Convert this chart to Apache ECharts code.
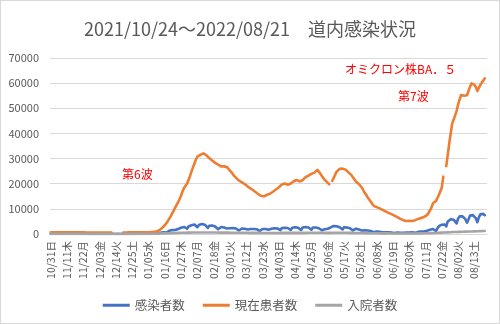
<!DOCTYPE html>
<html>
<head>
<meta charset="utf-8">
<script src="https://cdn.jsdelivr.net/npm/echarts@6/dist/echarts.min.js"></script>
<style>
html,body{margin:0;padding:0;background:#fff;}
#frame{position:absolute;left:0;top:0;width:500px;height:324px;box-sizing:border-box;border:1px solid #d9d9d9;}
#chart{position:absolute;left:0;top:0;width:500px;height:324px;}
</style>
</head>
<body>
<div id="frame"></div>
<div id="chart"></div>
<script>
// Title and legend names
const titleText = '2021/10/24～2022/08/21　道内感染状況';
const seriesNames = ['感染者数', '現在患者数', '入院者数'];
const annotationTexts = ['第6波', 'オミクロン株BA．５', '第7波'];

// Categories: daily from 2021/10/31 to 2022/08/21 (295 days)
const startDate = [2021, 10, 31];
const dayCount = 295;
const weekdayChars = ['日', '月', '火', '水', '木', '金', '土'];

// Y-axis ticks
const yTicks = [0, 10000, 20000, 30000, 40000, 50000, 60000, 70000];

// 感染者数 (daily new cases), one row per week starting Sunday
const infected = [
  20,12,25,30,28,26,24,
  20,10,22,25,24,20,18,
  16,8,18,20,19,17,15,
  14,7,15,16,15,13,12,
  11,6,12,14,13,12,11,
  10,5,11,12,11,10,9,
  9,5,10,11,12,10,9,
  10,6,12,14,13,12,11,
  12,8,14,16,20,24,22,
  25,18,35,40,60,90,120,
  150,110,240,360,480,620,700,
  760,560,1000,1250,1400,1550,1700,
  1600,1300,2000,2400,2500,2600,2800,
  2600,2100,3000,3300,3500,3600,3800,
  3400,2700,3600,3900,4000,3900,3700,
  3100,2400,3300,3500,3400,3200,3000,
  2600,1900,2600,2800,2700,2600,2500,
  2200,1600,2300,2500,2400,2300,2200,
  1900,1400,2100,2200,2200,2100,2000,
  1800,1300,2000,2100,2000,1900,1900,
  1700,1200,1900,2000,2000,2000,1900,
  1700,1300,2100,2300,2300,2200,2200,
  2000,1500,2400,2600,2500,2500,2400,
  2100,1600,2500,2700,2700,2600,2500,
  2200,1600,2600,2800,2800,2700,2600,
  2300,1700,2600,2700,2600,2500,2300,
  2000,1500,2000,1900,1800,2100,2400,
  2600,2200,3200,3300,3100,2900,2700,
  2400,1800,2700,2800,2600,2500,2300,
  2000,1400,2100,2100,1900,1800,1700,
  1400,1000,1500,1500,1400,1300,1200,
  1000,700,1000,1000,900,900,800,
  700,500,700,700,700,600,600,
  500,400,600,600,600,500,500,
  450,350,550,600,600,600,650,
  600,450,750,850,900,950,1000,
  950,700,1300,1500,1700,1800,2000,
  1800,1200,2200,3100,3400,3700,3900,
  3800,3000,5000,5600,5900,6000,5700,
  5000,4200,6200,7000,7200,7000,6600,
  5800,4500,5800,7300,7600,7500,7000,
  6200,4700,6600,7800,8200,8000,7500,
  null
];

// 現在患者数 (current patients)
const current = [
  720,710,700,700,690,690,680,
  680,680,670,670,660,660,660,
  650,650,650,640,640,640,630,
  630,630,630,620,620,620,620,
  610,610,610,610,600,600,600,
  600,600,600,600,600,600,600,
  null,null,null,null,null,null,null,
  620,620,620,630,630,630,640,
  640,650,650,660,660,670,680,
  690,700,720,740,770,810,860,
  930,1020,1150,1350,1750,2300,2900,
  3500,4300,5100,6100,7000,8200,9300,
  10500,11600,12700,13900,15300,17000,18300,
  19200,20000,21500,23000,24800,26500,28000,
  29600,30800,31300,31500,31800,32100,32300,
  31400,30700,30200,29700,29200,28800,28300,
  28000,27600,27200,26900,26800,26900,26700,
  26600,26000,25200,24600,23800,23000,22300,
  21800,21300,20900,20500,20200,19800,19400,
  18900,18400,18100,17700,17200,16800,16300,
  15900,15500,15100,14800,15000,15400,15600,
  15500,16000,16400,16800,17300,17700,18200,
  18600,19100,19700,19900,20100,19800,19600,
  19500,20100,20600,21000,21300,21500,21200,
  20900,20800,21400,22000,22600,23000,23200,
  23500,23900,24000,24400,25000,25500,24800,
  24000,23100,22300,21500,20800,20300,19800,
  null,21100,22300,23600,24800,25400,25900,
  26100,26000,25800,25600,25200,24500,24000,
  23400,22600,21700,20900,20300,19900,19500,
  18500,17400,16300,15500,14500,13700,12900,
  12000,11200,10900,10700,10500,10200,9900,
  9600,9300,9000,8700,8400,8200,7900,
  7600,7300,7000,6700,6300,6000,5800,
  5500,5300,5200,5100,5300,5200,5200,
  5300,5500,5700,6000,6200,6400,6600,
  6800,7000,7500,8300,9000,10500,12200,
  12700,13100,13500,15500,17000,18500,22800,
  null,27000,31500,36000,40000,44000,45500,
  46200,49000,51500,53500,55300,55200,55000,
  55300,55200,55600,58500,59900,59600,59300,
  58500,56900,57500,59300,60200,61000,61900,
  null
];

// 入院者数 (hospitalized)
const hospitalized = [
  120,120,115,115,110,110,105,
  105,100,100,95,95,90,90,
  85,85,80,80,80,75,75,
  75,70,70,70,70,65,65,
  65,65,60,60,60,60,60,
  60,60,60,60,60,60,60,
  60,60,60,60,60,60,60,
  60,60,60,60,60,60,65,
  65,65,70,70,70,75,75,
  80,80,85,90,95,100,110,
  120,135,150,170,190,210,230,
  250,270,290,310,330,350,370,
  390,410,430,450,470,490,510,
  520,530,540,550,560,570,580,
  590,600,600,610,610,610,600,
  600,600,590,590,580,580,570,
  570,560,560,550,550,540,540,
  530,530,520,520,510,510,500,
  500,490,490,480,480,470,470,
  460,460,450,450,440,440,430,
  430,430,420,420,420,410,410,
  410,410,410,410,410,420,420,
  420,420,430,430,430,430,440,
  440,440,440,450,450,450,450,
  450,450,460,460,460,460,470,
  470,470,470,480,480,480,480,
  480,470,470,460,460,450,450,
  450,460,470,480,490,490,490,
  490,490,480,480,470,470,460,
  450,440,430,420,410,400,390,
  380,370,360,350,340,330,320,
  310,300,290,280,270,260,260,
  250,250,240,240,230,230,220,
  220,210,210,200,200,200,190,
  190,190,190,190,200,200,210,
  210,220,230,240,250,260,270,
  280,290,300,320,340,360,380,
  400,420,450,480,510,540,570,
  600,630,660,690,720,750,780,
  800,820,840,860,880,900,920,
  940,960,980,1000,1020,1040,1060,
  1080,1100,1120,1140,1160,1180,1200,
  null
];

// Build the category labels
const categories = [];
for (let i = 0; i < dayCount; i++) {
  const d = new Date(startDate[0], startDate[1] - 1, startDate[2] + i);
  const mm = String(d.getMonth() + 1).padStart(2, '0');
  const dd = String(d.getDate()).padStart(2, '0');
  categories.push(mm + '/' + dd + weekdayChars[d.getDay()]);
}

const FONT = '"Noto Sans CJK JP", "Noto Sans", sans-serif';
const colors = ['#4472C4', '#ED7D31', '#A5A5A5'];
const chart = echarts.init(document.getElementById('chart'), null, {renderer: 'canvas'});

function mkSeries(name, data, color) {
  return {
    name: name, type: 'line', data: data, showSymbol: false, symbol: 'none',
    connectNulls: false, animation: false,
    lineStyle: {width: 2.6, color: color, cap: 'round', join: 'round'},
    itemStyle: {color: color},
    emphasis: {disabled: true}
  };
}

chart.setOption({
  animation: false,
  color: colors,
  title: {
    text: titleText, left: 'center', top: 15,
    textStyle: {fontFamily: FONT, fontSize: 18, fontWeight: 'normal', color: '#595959'}
  },
  grid: {left: 50, right: 13, top: 58, bottom: 90, containLabel: false},
  legend: {
    data: seriesNames, left: 'center', top: 294, icon: 'rect',
    itemWidth: 27, itemHeight: 3, itemGap: 18,
    textStyle: {fontFamily: FONT, fontSize: 12.5, color: '#595959'}
  },
  xAxis: {
    type: 'category', data: categories, boundaryGap: true,
    axisLine: {lineStyle: {color: '#d9d9d9', width: 1}},
    axisTick: {show: false},
    axisLabel: {interval: 10, rotate: 90, margin: 7, fontFamily: FONT, fontSize: 10.5, color: '#595959'},
    splitLine: {show: false}
  },
  yAxis: {
    type: 'value', min: yTicks[0], max: yTicks[yTicks.length - 1], interval: yTicks[1] - yTicks[0],
    axisLine: {show: false}, axisTick: {show: false},
    axisLabel: {margin: 11, fontFamily: FONT, fontSize: 11, color: '#595959',
      formatter: function (v) { return String(v); }},
    splitLine: {lineStyle: {color: '#d9d9d9', width: 1}}
  },
  series: [
    mkSeries(seriesNames[0], infected, colors[0]),
    mkSeries(seriesNames[1], current, colors[1]),
    mkSeries(seriesNames[2], hospitalized, colors[2])
  ],
  graphic: [
    {type: 'text', left: 122, top: 168, style: {text: annotationTexts[0], fill: '#FF0000', font: '12px ' + FONT}},
    {type: 'text', left: 345, top: 63, style: {text: annotationTexts[1], fill: '#FF0000', font: '12px ' + FONT}},
    {type: 'text', left: 398, top: 90, style: {text: annotationTexts[2], fill: '#FF0000', font: '12px ' + FONT}}
  ]
});
</script>
</body>
</html>
